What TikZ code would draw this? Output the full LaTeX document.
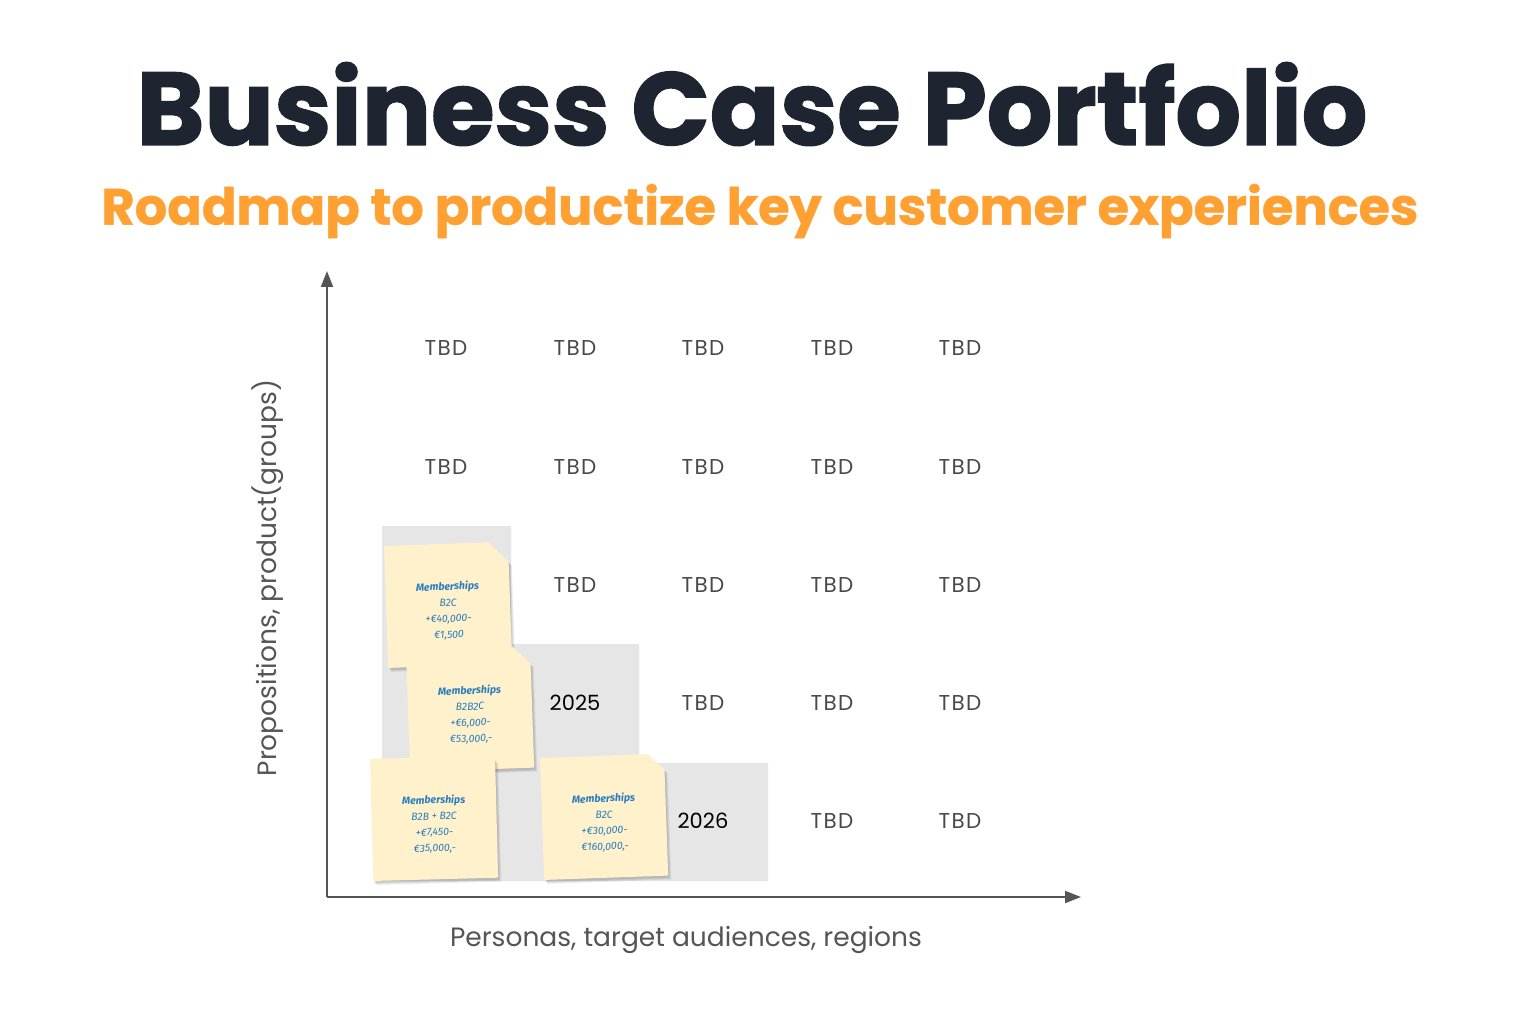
\documentclass[tikz,border=0pt]{standalone}
\usepackage{fontspec}
\setmainfont{Poppins}
\newfontfamily\titlefont{Poppins}[BoldFeatures={FakeBold=1.6}]
\newfontfamily\subfont{Poppins}[BoldFeatures={FakeBold=0.8}]
\newfontfamily\cellfont{Poppins}[LetterSpace=6]
\newfontfamily\handfont{Fira Sans}
\usetikzlibrary{arrows.meta}
\definecolor{titlecol}{HTML}{1E2531}
\definecolor{orangecol}{HTML}{FFA033}
\definecolor{axiscol}{HTML}{555555}
\definecolor{tbdcol}{HTML}{4A4A4A}
\definecolor{cellgray}{HTML}{E6E6E6}
\definecolor{notefill}{HTML}{FFF1CB}
\definecolor{noteblue}{HTML}{2A7DBE}
\tikzset{
  axisline/.style={draw=axiscol, line width=2pt, -{Triangle[length=16pt,width=12pt]}},
  celltext/.style={text=tbdcol, font=\cellfont\fontsize{21.5}{24}\selectfont},
  yeartext/.style={text=black, font=\fontsize{21}{25}\selectfont},
  notebody/.style={fill=notefill},
  noteshadow/.style={fill=black, opacity=0.07},
  notetext/.style={text=noteblue, align=center, font=\handfont\itshape\fontsize{10.5}{16}\selectfont, transform shape},
  axislabel/.style={text=axiscol, font=\fontsize{26.5}{30}\selectfont}
}
\newcommand\stickyN[6]{%
  \begin{scope}[shift={(#1)}, rotate=#2]
    \foreach \d in {1,2,3}{
      \fill[noteshadow] (\d,\d+1) -- (#3-#4+\d,\d+1) -- (#3+\d,#4+\d+1) -- (#3+\d,122+\d+1) -- (\d,122+\d+1) -- cycle;
    }
    \fill[notebody] (0,0) -- (#3-#4,0) -- (#3,#4) -- (#3,122) -- (0,122) -- cycle;
    \node[notetext] (#5) at (#3/2,67) {{\bfseries Memberships}\\#6};
  \end{scope}}
\begin{document}
\begin{tikzpicture}[x=1pt,y=-1pt]
\useasboundingbox[fill=white] (0,0) rectangle (1520,1024);
% titles
\node[text=titlecol, font=\titlefont\bfseries\fontsize{103}{116}\selectfont] (title) at (752,104) {Business Case Portfolio};
\node[text=orangecol, font=\subfont\bfseries\fontsize{51}{60}\selectfont] (subtitle) at (760,211) {Roadmap to productize key customer experiences};
% gray cells
\fill[cellgray] (382,526) -- (511,526) -- (511,644) -- (639,644) -- (639,763) -- (768,763) -- (768,881) -- (382,881) -- cycle;
% axes
\coordinate (origin) at (327,897);
\coordinate (ytip) at (327,271);
\coordinate (xtip) at (1081,897);
\draw[axisline] (origin) -- (ytip);
\draw[axisline] (origin) -- (xtip);
\node[axislabel, rotate=90] (ylabel) at (268,578) {Propositions, product(groups)};
\node[axislabel] (xlabel) at (686,940) {Personas, target audiences, regions};
% grid texts
\foreach \r/\y in {1/348,2/467}{
  \foreach \c/\x in {1/446,2/575,3/703,4/832,5/960}{
    \node[celltext] (c\r\c) at (\x,\y) {TBD};
  }
}
\foreach \c/\x in {2/575,3/703,4/832,5/960}{\node[celltext] (c3\c) at (\x,585) {TBD};}
\node[yeartext] (c42) at (575,703) {2025};
\foreach \c/\x in {3/703,4/832,5/960}{\node[celltext] (c4\c) at (\x,703) {TBD};}
\node[yeartext] (c53) at (703,821) {2026};
\foreach \c/\x in {4/832,5/960}{\node[celltext] (c5\c) at (\x,821) {TBD};}
% sticky notes
\stickyN{384,546}{2}{124}{20}{noteA}{B2C\\+€40,000-\\€1,500}
\stickyN{406,650}{2}{124}{18}{noteB}{B2B2C\\+€6,000-\\€53,000,-}
\stickyN{370,759}{1.5}{125}{4}{noteC}{B2B + B2C\\+€7,450-\\€35,000,-}
\stickyN{540,758}{2}{124}{16}{noteD}{B2C\\+€30,000-\\€160,000,-}
\end{tikzpicture}
\end{document}
